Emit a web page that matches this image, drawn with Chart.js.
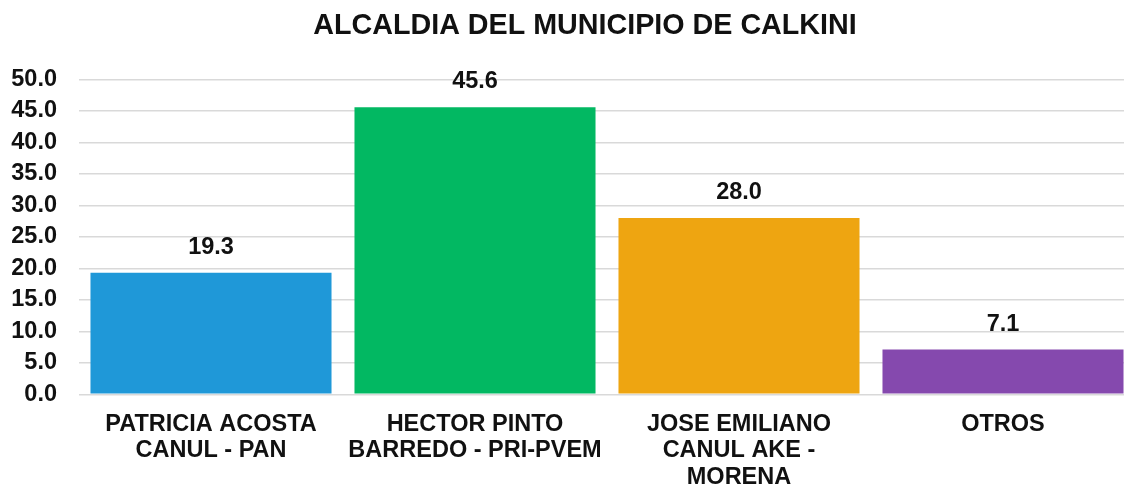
<!DOCTYPE html>
<html>
<head>
<meta charset="utf-8">
<script src="https://cdn.jsdelivr.net/npm/chart.js@4/dist/chart.umd.min.js"></script>
<style>
    html, body { margin: 0; padding: 0; background: #fff; overflow: hidden; }
    #marco { width: 1170px; height: 489px; position: relative; }
</style>
</head>
<body>
<div id="marco"><canvas id="alcaldiaChart"></canvas></div>
<script>
// Datos de la gráfica
const titulo = 'ALCALDIA DEL MUNICIPIO DE CALKINI';
const candidatos = [
    ['PATRICIA ACOSTA', 'CANUL - PAN'],
    ['HECTOR PINTO', 'BARREDO - PRI-PVEM'],
    ['JOSE EMILIANO', 'CANUL AKE -', 'MORENA'],
    'OTROS'
];
const porcentajes = [19.3, 45.6, 28.0, 7.1];
const colores = ['#1f98d8', '#02b862', '#eea511', '#8549ae'];
const escalaMax = 50;
const escalaPaso = 5;

const fuente = "'Liberation Sans', Arial, sans-serif";

// Plugin sencillo para poner el valor encima de cada barra
const etiquetasValor = {
    id: 'etiquetasValor',
    afterDatasetsDraw(chart) {
        const ctx = chart.ctx;
        const meta = chart.getDatasetMeta(0);
        ctx.save();
        ctx.font = 'bold 23.5px ' + fuente;
        ctx.fillStyle = '#111';
        ctx.textAlign = 'center';
        ctx.textBaseline = 'alphabetic';
        meta.data.forEach((bar, i) => {
            ctx.fillText(porcentajes[i].toFixed(1), bar.x, bar.y - 19);
        });
        ctx.restore();
    }
};

const ctx = document.getElementById('alcaldiaChart').getContext('2d');
new Chart(ctx, {
    type: 'bar',
    data: {
        labels: candidatos,
        datasets: [{
            data: porcentajes,
            backgroundColor: colores,
            categoryPercentage: 1,
            barPercentage: 0.913
        }]
    },
    options: {
        responsive: true,
        maintainAspectRatio: false,
        animation: false,
        layout: {
            padding: { left: 0, right: 0, top: 0, bottom: -18 }
        },
        plugins: {
            legend: { display: false },
            tooltip: { enabled: false },
            title: {
                display: true,
                text: titulo,
                color: '#111',
                font: { family: fuente, size: 28.7, weight: 'bold' },
                padding: { top: 9, bottom: 36 }
            }
        },
        scales: {
            x: {
                grid: { display: false, drawTicks: false },
                border: { display: false },
                ticks: {
                    color: '#111',
                    font: { family: fuente, size: 23.5, weight: 'bold', lineHeight: 1.13 },
                    padding: 16.5,
                    maxRotation: 0,
                    autoSkip: false
                }
            },
            y: {
                min: 0,
                max: escalaMax,
                afterFit: scale => { scale.width = 79; },
                grid: { color: '#d9d9d9', lineWidth: 1.5, drawTicks: false },
                border: { display: false },
                ticks: {
                    stepSize: escalaPaso,
                    autoSkip: false,
                    color: '#111',
                    padding: 22,
                    font: { family: fuente, size: 23.5, weight: 'bold' },
                    callback: v => v.toFixed(1)
                }
            },
            // eje vacío a la derecha, solo deja el margen del área de trazado
            margenDer: {
                type: 'linear',
                axis: 'y',
                position: 'right',
                min: 0,
                max: escalaMax,
                afterFit: scale => { scale.width = 35; },
                grid: { display: false, drawTicks: false },
                border: { display: false },
                ticks: { display: false }
            }
        }
    },
    plugins: [etiquetasValor]
});
</script>
</body>
</html>
